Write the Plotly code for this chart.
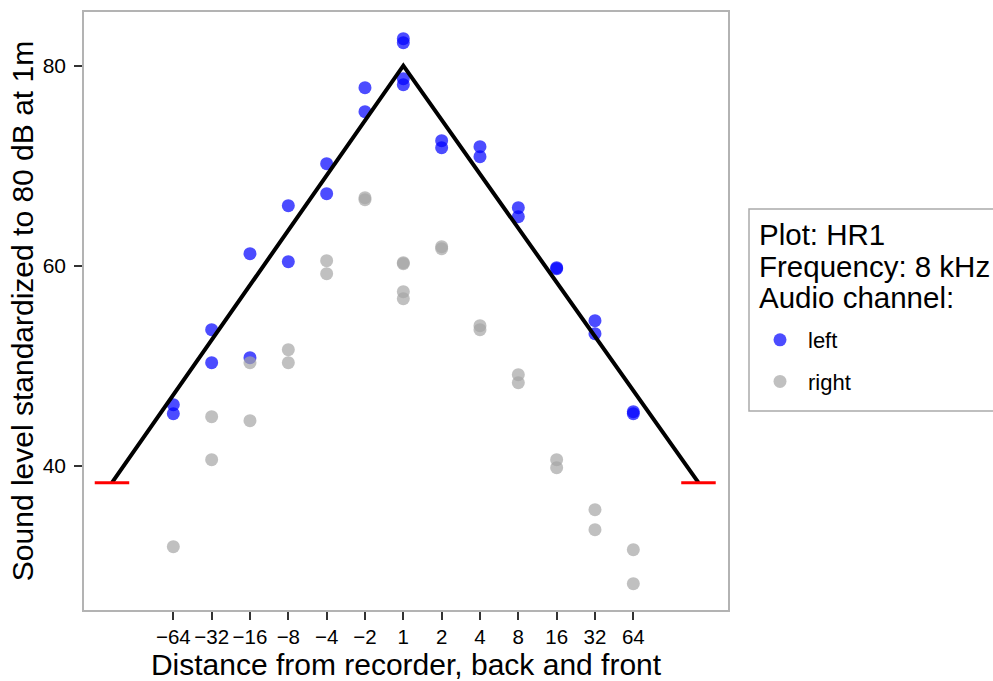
import plotly.graph_objects as go

# Distance categories (m), negative = behind the recorder, positive = in front
distances = ["−64", "−32", "−16", "−8", "−4", "−2", "1", "2", "4", "8", "16", "32", "64"]

# Standardized sound level (dB) per distance, left audio channel
left_levels = [
    [46.1, 45.2], [53.6, 50.3], [61.2, 50.8], [66.0, 60.4], [70.2, 67.2],
    [77.8, 75.4], [82.7, 82.3, 78.7, 78.1], [72.5, 71.8], [71.9, 70.9],
    [65.8, 64.9], [59.8, 59.7], [54.5, 53.2], [45.4, 45.2],
]

# Standardized sound level (dB) per distance, right audio channel
right_levels = [
    [31.9], [44.9, 40.6], [50.3, 44.5], [51.6, 50.3], [60.5, 59.2],
    [66.8, 66.6], [60.3, 60.2, 57.4, 56.7], [61.9, 61.7], [54.0, 53.6],
    [49.1, 48.3], [40.6, 39.8], [35.6, 33.6], [31.6, 28.2],
]

# Expected attenuation model: peak at 1 m, down to the detection floor on both sides
model_x = [-0.6, 7, 14.7]
peak_level = 80
floor_level = 38.3
floor_half_width = 0.45

FONT = "Arial, Liberation Sans, sans-serif"


def flatten(levels):
    xs, ys = [], []
    for i, vals in enumerate(levels):
        for v in vals:
            xs.append(i + 1)
            ys.append(v)
    return xs, ys


fig = go.Figure()

lx, ly = flatten(left_levels)
rx, ry = flatten(right_levels)

fig.add_trace(go.Scatter(
    x=lx, y=ly, mode="markers", name="left", legendgroup="left",
    marker=dict(color="rgba(0,0,255,0.7)", size=13, line=dict(width=0)),
))
fig.add_trace(go.Scatter(
    x=rx, y=ry, mode="markers", name="right", legendgroup="right",
    marker=dict(color="rgba(165,165,165,0.7)", size=13, line=dict(width=0)),
))

fig.add_trace(go.Scatter(
    x=model_x, y=[floor_level, peak_level, floor_level], mode="lines",
    line=dict(color="black", width=4), showlegend=False, hoverinfo="skip",
))
for xe in (model_x[0], model_x[-1]):
    fig.add_trace(go.Scatter(
        x=[xe - floor_half_width, xe + floor_half_width], y=[floor_level, floor_level],
        mode="lines", line=dict(color="red", width=3), showlegend=False, hoverinfo="skip",
    ))

# Legend frame and title lines
L, T, W, H = 84, 12, 644, 598


def px_x(p):
    return (p - L) / W


def px_y(p):
    return (T + H - p) / H


fig.add_shape(type="rect", xref="paper", yref="paper",
              x0=px_x(749), x1=px_x(1005), y0=px_y(411), y1=px_y(209),
              line=dict(color="#aaaaaa", width=1.5), fillcolor="rgba(0,0,0,0)")

for txt, yc in [("Plot: HR1", 235), ("Frequency: 8 kHz", 266), ("Audio channel:", 297)]:
    fig.add_annotation(x=px_x(757), y=px_y(yc), xref="paper", yref="paper",
                       text=txt, showarrow=False, xanchor="left", yanchor="middle",
                       font=dict(family=FONT, size=29.5, color="black"))

fig.update_layout(
    width=993, height=681,
    margin=dict(l=L, r=993 - L - W, t=T, b=681 - T - H, autoexpand=False),
    paper_bgcolor="white", plot_bgcolor="white",
    font=dict(family=FONT, color="black"),
    legend=dict(
        x=px_x(752), y=px_y(319), xanchor="left", yanchor="top",
        traceorder="grouped", tracegroupgap=10, itemwidth=46,
        font=dict(family=FONT, size=22, color="black"),
        bgcolor="rgba(0,0,0,0)", borderwidth=0,
    ),
    xaxis=dict(
        range=[-1.33, 15.47], tickmode="array",
        tickvals=list(range(1, len(distances) + 1)), ticktext=distances,
        ticks="outside", ticklen=8, tickwidth=1.5, tickcolor="#333333",
        tickfont=dict(family=FONT, size=20.5, color="black"),
        showgrid=False, zeroline=False,
        showline=True, linecolor="#b3b3b3", linewidth=1.5, mirror=True,
        title=dict(text="Distance from recorder, back and front",
                   font=dict(family=FONT, size=30, color="black"), standoff=5),
    ),
    yaxis=dict(
        range=[25.57, 85.37], tickmode="array", tickvals=[40, 60, 80],
        ticks="outside", ticklen=8, tickwidth=1.5, tickcolor="#333333",
        tickfont=dict(family=FONT, size=21, color="black"),
        ticklabelstandoff=4,
        showgrid=False, zeroline=False,
        showline=True, linecolor="#b3b3b3", linewidth=1.5, mirror=True,
        title=dict(text="Sound level standardized to 80 dB at 1m",
                   font=dict(family=FONT, size=30, color="black"), standoff=0),
    ),
)

fig.write_html("out.html")
